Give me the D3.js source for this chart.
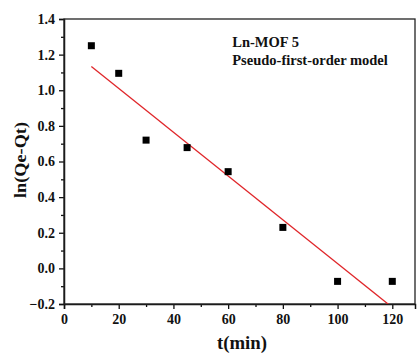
<!DOCTYPE html>
<html>
<head>
<meta charset="utf-8">
<script src="https://cdn.jsdelivr.net/npm/d3@7"></script>
<style>
  body { margin: 0; background: #fff; }
  svg text { font-family: "Liberation Serif", "Times New Roman", serif; font-weight: bold; fill: #111; }
</style>
</head>
<body>
<div id="chart"></div>
<script>
// measured points
var timeMin = [10, 20, 30, 45, 60, 80, 100, 120];
var lnQeQt = [1.25, 1.095, 0.72, 0.678, 0.543, 0.23, -0.073, -0.073];

// fitted line end points (as drawn)
var fitX = [10, 120];
var fitY = [1.133, -0.219];

var xTicks = [0, 20, 40, 60, 80, 100, 120];
var yTicks = [-0.2, 0.0, 0.2, 0.4, 0.6, 0.8, 1.0, 1.2, 1.4];

var labelLines = ["Ln-MOF 5", "Pseudo-first-order model"];

var width = 419, height = 356;
var margin = {top: 19, right: 4, bottom: 52, left: 64};
var plotW = width - margin.left - margin.right,
    plotH = height - margin.top - margin.bottom;

var svg = d3.select("#chart").append("svg")
    .attr("width", width)
    .attr("height", height);

var x = d3.scaleLinear().domain([0, 128.3]).range([0, plotW]);
var y = d3.scaleLinear().domain([-0.2, 1.4]).range([plotH, 0]);

var g = svg.append("g").attr("transform", "translate(" + margin.left + "," + margin.top + ")");

svg.append("defs").append("clipPath").attr("id", "plotClip")
    .append("rect").attr("width", plotW).attr("height", plotH);

// minor ticks
var xMinor = d3.range(10, 130, 20);
var yMinor = d3.range(-0.1, 1.4, 0.2);

var xAxis = d3.axisBottom(x).tickValues(xTicks).tickFormat(d3.format("d")).tickSize(5).tickPadding(5);
var yAxis = d3.axisLeft(y).tickValues(yTicks).tickFormat(d3.format(".1f")).tickSize(5).tickPadding(4);

var gx = g.append("g").attr("class", "x-axis").attr("transform", "translate(0," + plotH + ")").call(xAxis);
var gy = g.append("g").attr("class", "y-axis").call(yAxis);

g.append("g").attr("transform", "translate(0," + plotH + ")")
    .call(d3.axisBottom(x).tickValues(xMinor).tickSize(3).tickFormat(""))
    .select(".domain").remove();
g.append("g")
    .call(d3.axisLeft(y).tickValues(yMinor).tickSize(3).tickFormat(""))
    .select(".domain").remove();

[gx, gy].forEach(function (a) {
    a.selectAll("text").style("font-size", "14px");
});
g.selectAll(".tick line").attr("stroke", "#111").attr("stroke-width", 1.3);
g.selectAll(".domain").attr("stroke", "#111").attr("stroke-width", 1.5);

// frame
g.append("rect")
    .attr("width", plotW).attr("height", plotH)
    .attr("fill", "none").attr("stroke", "#222").attr("stroke-width", 1.3);

// fit line
g.append("line")
    .attr("clip-path", "url(#plotClip)")
    .attr("x1", x(fitX[0])).attr("y1", y(fitY[0]))
    .attr("x2", x(fitX[1])).attr("y2", y(fitY[1]))
    .attr("stroke", "#e0262a").attr("stroke-width", 1.3);

// points
g.selectAll(".pt").data(timeMin).enter().append("rect")
    .attr("class", "pt")
    .attr("x", function (d) { return x(d) - 3.5; })
    .attr("y", function (d, i) { return y(lnQeQt[i]) - 3.5; })
    .attr("width", 7).attr("height", 7)
    .attr("fill", "#000");

// annotation
g.selectAll(".note").data(labelLines).enter().append("text")
    .attr("class", "note")
    .attr("x", x(61.5))
    .attr("y", function (d, i) { return 28 + i * 18; })
    .style("font-size", "14.5px")
    .text(function (d) { return d; });

// axis titles
svg.append("text")
    .attr("x", 242)
    .attr("y", 349)
    .attr("text-anchor", "middle")
    .attr("textLength", 50)
    .attr("lengthAdjust", "spacingAndGlyphs")
    .style("font-size", "18px")
    .text("t(min)");

svg.append("text")
    .attr("transform", "translate(26,160) rotate(-90)")
    .attr("text-anchor", "middle")
    .attr("textLength", 76)
    .attr("lengthAdjust", "spacingAndGlyphs")
    .style("font-size", "16.5px")
    .text("ln(Qe-Qt)");
</script>
</body>
</html>
